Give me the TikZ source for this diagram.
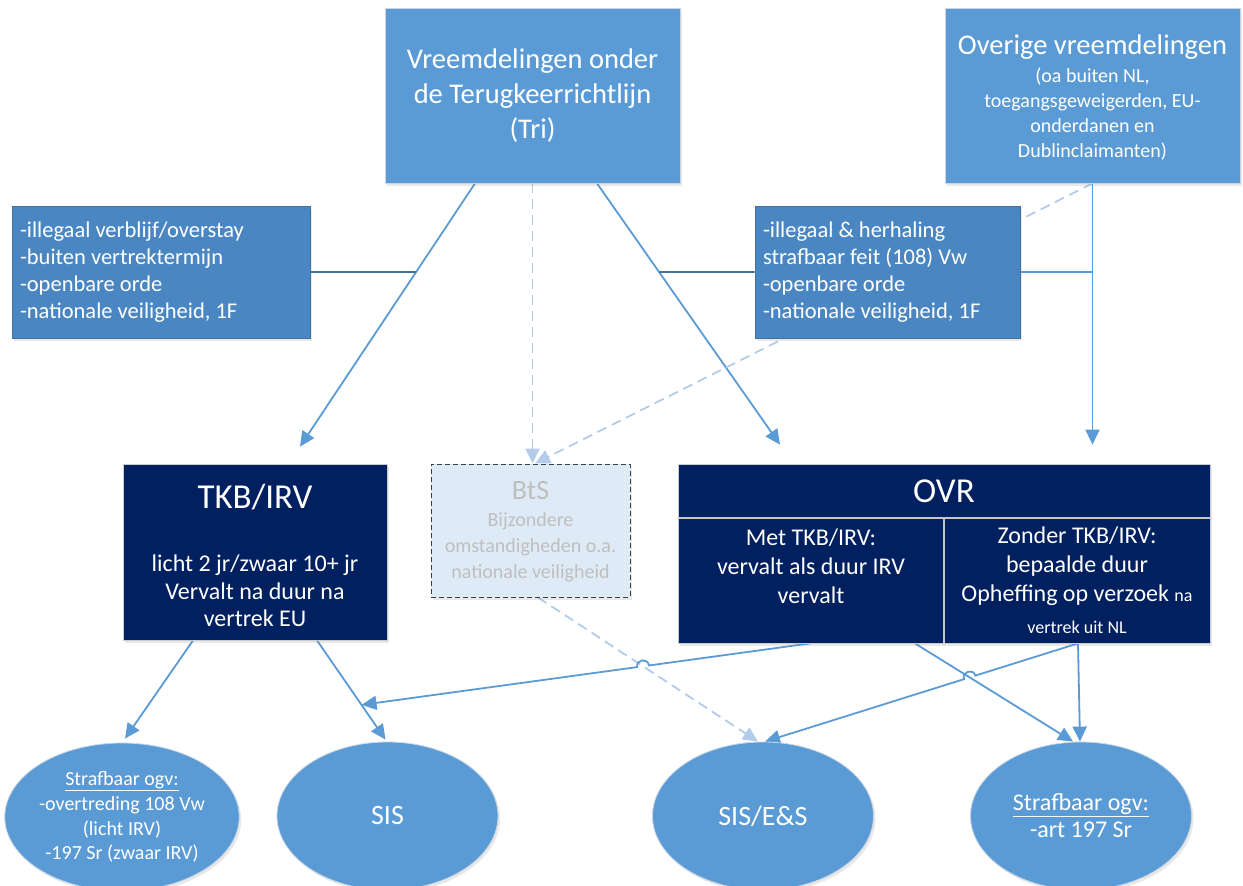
\documentclass[tikz,border=0pt]{standalone}
\usepackage{fontspec}
\setmainfont{Carlito}
\usetikzlibrary{arrows.meta,calc,intersections,backgrounds,shadows,shapes.geometric}
\definecolor{cblue}{HTML}{5B9BD5}
\definecolor{ccrit}{HTML}{4A87C2}
\definecolor{ccritb}{HTML}{41719C}
\definecolor{cnavy}{HTML}{002060}
\definecolor{cbts}{HTML}{DEEBF7}
\definecolor{cbtstxt}{HTML}{BFBFBF}
\definecolor{clight}{HTML}{B4CCEA}
\definecolor{cedge}{HTML}{C9D6E6}
\newcommand{\fsz}[2]{\fontsize{#1}{#2}\selectfont}
\frenchspacing
\begin{document}
\begin{tikzpicture}[x=1pt,y=-1pt,
 softshadow/.style={drop shadow={opacity=0.18,shadow xshift=2pt,shadow yshift=-2.5pt}},
 topbox/.style={draw=cedge, line width=0.8pt, fill=cblue, text=white, align=center, inner sep=0pt, softshadow},
 critbox/.style={draw=ccritb, line width=0.8pt, fill=ccrit, text=white, align=flush left, inner sep=8pt, font=\fsz{22.5}{27}, softshadow},
 navybox/.style={draw=gray!40, line width=0.8pt, fill=cnavy, inner sep=0pt, softshadow},
 btsbox/.style={draw=black!75, dash pattern=on 5pt off 3pt, line width=1pt, fill=cbts, inner sep=0pt, softshadow},
 oval/.style={ellipse, draw=cedge, line width=0.8pt, fill=cblue, text=white, align=center, minimum width=221pt, minimum height=148pt, inner sep=0pt, softshadow},
 wtxt/.style={text=white, align=center, inner sep=0pt},
 gtxt/.style={text=cbtstxt, align=center, inner sep=0pt},
 conn/.style={draw=cblue, line width=1.8pt, -{Triangle[length=15pt,width=14pt]}},
 lineonly/.style={draw=cblue, line width=1.8pt},
 dconn/.style={draw=clight, line width=1.8pt, dash pattern=on 10pt off 6pt, -{Triangle[length=15pt,width=14pt]}},
 divline/.style={draw=gray!45, line width=1.2pt}
]
\useasboundingbox (0,0) rectangle (1243,886);

% top boxes
\node[topbox, minimum width=295pt, minimum height=175pt, font=\fsz{28.5}{35}] (tri) at (532.5,95.5) {Vreemdelingen onder\\de Terugkeerrichtlijn\\(Tri)};
\node[topbox, minimum width=295pt, minimum height=175pt] (ovg) at (1092.5,95.5) {};
\node[wtxt, font=\fsz{28.5}{34}] (ovgt) at (1092.5,47) {Overige vreemdelingen};
\node[wtxt, font=\fsz{20}{25}] (ovgs) at (1092.5,114) {(oa buiten NL,\\toegangsgeweigerden, EU-\\onderdanen en\\Dublinclaimanten)};

% criteria boxes
\node[critbox, text width=282pt, minimum height=132pt] (crL) at (161,272) {-illegaal verblijf/overstay\\-buiten vertrektermijn\\-openbare orde\\-nationale veiligheid, 1F};
\node[critbox, text width=249pt, minimum height=132pt] (crR) at (887.5,272) {-illegaal \& herhaling\\strafbaar feit (108) Vw\\-openbare orde\\-nationale veiligheid, 1F};

% TKB/IRV
\node[navybox, minimum width=264pt, minimum height=176pt] (tkb) at (255,552) {};
\node[wtxt, font=\fsz{35}{40}] (tkbt) at (255,497) {TKB/IRV};
\node[wtxt, font=\fsz{24}{27.5}] (tkbb) at (255,591) {licht 2 jr/zwaar 10+ jr\\Vervalt na duur na\\vertrek EU};

% BtS
\node[btsbox, minimum width=199pt, minimum height=133pt] (bts) at (530.5,530.5) {};
\node[gtxt, font=\fsz{28}{32}] (btst) at (530.5,491) {BtS};
\node[gtxt, font=\fsz{20}{26}] (btsb) at (530.5,547) {Bijzondere\\omstandigheden o.a.\\nationale veiligheid};

% OVR
\node[navybox, minimum width=532pt, minimum height=179pt] (ovr) at (944,553.5) {};
\coordinate (hdL) at (678,518);
\coordinate (hdR) at (1210,518);
\coordinate (vdT) at (944,518);
\coordinate (vdB) at (944,643);
\draw[divline] (hdL) -- (hdR);
\draw[divline] (vdT) -- (vdB);
\node[wtxt, font=\fsz{35}{40}] (ovrt) at (944,491) {OVR};
\node[wtxt, font=\fsz{24}{29}] (ovrl) at (811,566) {Met TKB/IRV:\\vervalt als duur IRV\\vervalt};
\node[wtxt, font=\fsz{24}{29}] (ovrr) at (1077,566) {Zonder TKB/IRV:\\bepaalde duur\\Opheffing op verzoek {\fsz{18}{29}na}};
\node[wtxt, font=\fsz{18}{22}] (ovrr2) at (1077,627) {vertrek uit NL};

% ellipses
\node[oval, font=\fsz{20}{24.7}] (e1) at (122,817) {\underline{Strafbaar ogv:}\\-overtreding 108 Vw\\(licht IRV)\\-197 Sr (zwaar IRV)};
\node[oval, font=\fsz{28}{32}] (e2) at (387.5,816) {SIS};
\node[oval, font=\fsz{28}{32}] (e3) at (763,816) {SIS/E\&S};
\node[oval, font=\fsz{24}{27}] (e4) at (1081,816) {\underline{Strafbaar ogv:}\\-art 197 Sr};

\begin{scope}[on background layer]
\fill[white] (0,0) rectangle (1243,886);
% coordinates
\coordinate (s1) at ([xshift=-57.5pt]tri.south);
\coordinate (t1) at ([xshift=45pt,yshift=17pt]tkb.north);
\coordinate (s2) at ([xshift=64.5pt]tri.south);
\coordinate (t2) at ([xshift=-164pt,yshift=19pt]ovr.north);
\coordinate (t5) at ([yshift=19pt]ovg.south |- ovr.north);
\coordinate (s9) at ([xshift=-62pt]tkb.south);
\coordinate (t9) at ([xshift=3pt,yshift=4pt]e1.north);
\coordinate (s10) at ([xshift=62pt]tkb.south);
\coordinate (t10) at ([xshift=-2pt,yshift=2pt]e2.north);
\coordinate (s11) at ([xshift=-134pt]ovr.south);
\coordinate (j10) at ($(s10)!0.65!(t10)$);
\coordinate (s12) at ([xshift=7.5pt]bts.south);
\coordinate (t12) at ([xshift=-5pt]e3.north);
\coordinate (s13) at ([xshift=-29pt]ovr.south);
\coordinate (t13) at ([xshift=-8pt]e4.north);
\coordinate (s14) at ([xshift=134pt]ovr.south);
\coordinate (t14) at ([xshift=2pt]e3.north);
\coordinate (t15) at ([xshift=-1pt]e4.north);

% top arrows
\draw[conn] (s1) -- (t1);
\draw[conn] (s2) -- (t2);
\draw[dconn] (tri.south) -- (tri.south |- bts.north);
\draw[dconn] (ovg.south) -- ([xshift=4.5pt]bts.north);
\draw[conn] (ovg.south) -- (t5);

% criteria joins
\path[name path=L1] (s1) -- (t1);
\path[name path=H1] (crL.east) -- ++(200,0);
\path[name intersections={of=L1 and H1, by=j1}];
\draw[lineonly, draw=ccritb] (crL.east) -- (j1);
\path[name path=L2] (s2) -- (t2);
\path[name path=H2] (crR.west) -- ++(-200,0);
\path[name intersections={of=L2 and H2, by=j2}];
\draw[lineonly, draw=ccritb] (j2) -- (crR.west);
\draw[lineonly] (crR.east) -- (crR.east -| ovg.south);

% bottom arrows
\draw[conn] (s9) -- (t9);
\draw[conn] (s10) -- (t10);
\draw[dconn] (s12) -- (t12);
\draw[conn] (s13) -- (t13);
\draw[conn] (s14) -- (t15);

% hops
\path[name path=P11] (s11) -- (j10);
\path[name path=P12] (s12) -- (t12);
\path[name intersections={of=P11 and P12, by=x11}];
\coordinate (h11a) at ($(x11)!6pt!(s11)$);
\coordinate (h11b) at ($(x11)!6pt!(j10)$);
\draw[conn] (s11) -- (h11a) to[bend right=90, looseness=1.7] (h11b) -- (j10);

\path[name path=P14] (s14) -- (t14);
\path[name path=P13] (s13) -- (t13);
\path[name intersections={of=P14 and P13, by=x14}];
\coordinate (h14a) at ($(x14)!6pt!(s14)$);
\coordinate (h14b) at ($(x14)!6pt!(t14)$);
\draw[conn] (s14) -- (h14a) to[bend right=90, looseness=1.7] (h14b) -- (t14);
\end{scope}
\end{tikzpicture}
\end{document}
